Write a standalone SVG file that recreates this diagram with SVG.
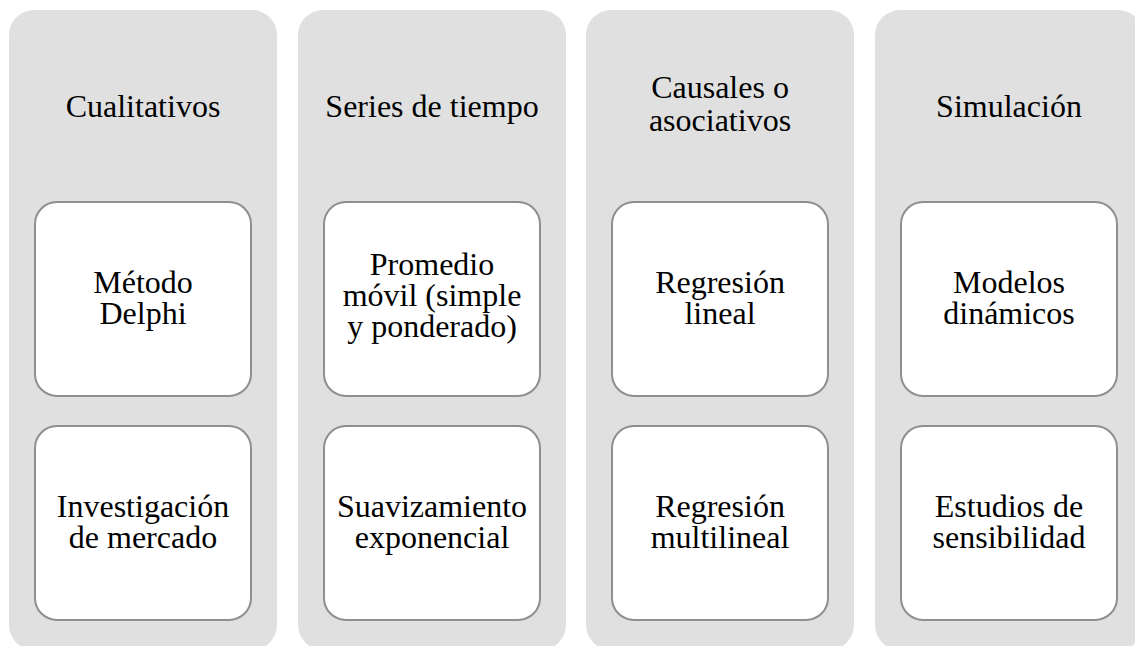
<svg xmlns="http://www.w3.org/2000/svg" width="1135" height="646" viewBox="0 0 1135 646">
<style>
.col{fill:#e0e0e0;}
.box{fill:#ffffff;stroke:#8f8f8f;stroke-width:2;}
.t{font-family:"Liberation Serif","Times New Roman",serif;font-size:32px;fill:#000;text-anchor:middle;}
</style>
<rect width="1135" height="646" fill="#ffffff"/>
<g id="col1">
<rect class="col" x="9" y="10" width="268" height="640" rx="25"/>
<text class="t" x="143" y="117">Cualitativos</text>
</g>
<g id="col2">
<rect class="col" x="298" y="10" width="268" height="640" rx="25"/>
<text class="t" x="432" y="117">Series de tiempo</text>
</g>
<g id="col3">
<rect class="col" x="586" y="10" width="268" height="640" rx="25"/>
<text class="t" x="720" y="98">Causales o<tspan x="720" dy="33">asociativos</tspan></text>
</g>
<g id="col4">
<rect class="col" x="875" y="10" width="268" height="640" rx="25"/>
<text class="t" x="1009" y="117">Simulación</text>
</g>
<g id="n1">
<rect class="box" x="35" y="202" width="216" height="194" rx="22"/>
<text class="t" x="143" y="293">Método<tspan x="143" dy="31">Delphi</tspan></text>
</g>
<g id="n2">
<rect class="box" x="35" y="426" width="216" height="194" rx="22"/>
<text class="t" x="143" y="517">Investigación<tspan x="143" dy="31">de mercado</tspan></text>
</g>
<g id="n3">
<rect class="box" x="324" y="202" width="216" height="194" rx="22"/>
<text class="t" x="432" y="275">Promedio<tspan x="432" dy="31">móvil (simple</tspan><tspan x="432" dy="31">y ponderado)</tspan></text>
</g>
<g id="n4">
<rect class="box" x="324" y="426" width="216" height="194" rx="22"/>
<text class="t" x="432" y="517">Suavizamiento<tspan x="432" dy="31">exponencial</tspan></text>
</g>
<g id="n5">
<rect class="box" x="612" y="202" width="216" height="194" rx="22"/>
<text class="t" x="720" y="293">Regresión<tspan x="720" dy="31">lineal</tspan></text>
</g>
<g id="n6">
<rect class="box" x="612" y="426" width="216" height="194" rx="22"/>
<text class="t" x="720" y="517">Regresión<tspan x="720" dy="31">multilineal</tspan></text>
</g>
<g id="n7">
<rect class="box" x="901" y="202" width="216" height="194" rx="22"/>
<text class="t" x="1009" y="293">Modelos<tspan x="1009" dy="31">dinámicos</tspan></text>
</g>
<g id="n8">
<rect class="box" x="901" y="426" width="216" height="194" rx="22"/>
<text class="t" x="1009" y="517">Estudios de<tspan x="1009" dy="31">sensibilidad</tspan></text>
</g>
<g id="connectors"></g>
</svg>
